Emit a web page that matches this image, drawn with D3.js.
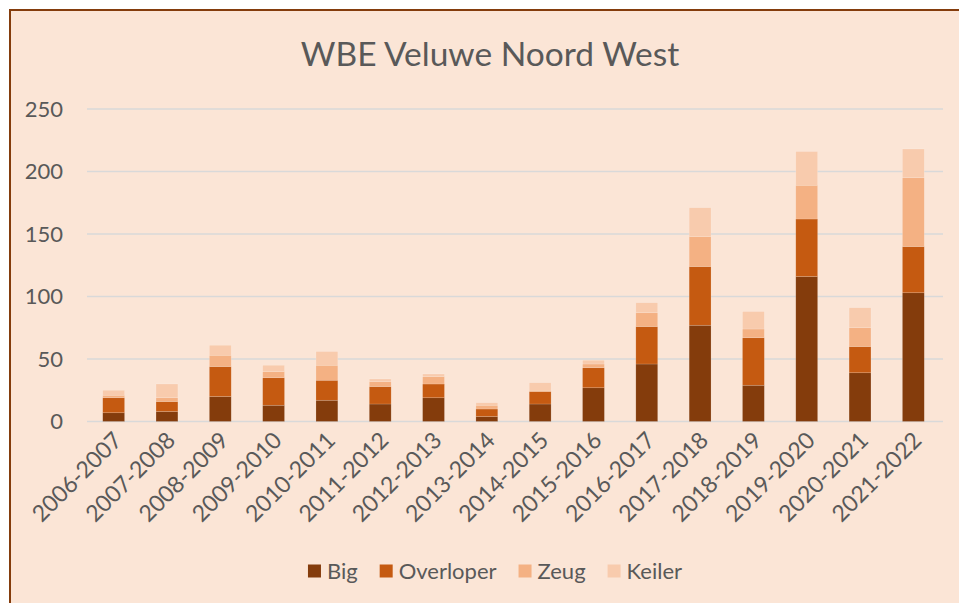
<!DOCTYPE html>
<html><head><meta charset="utf-8">
<script src="https://cdn.jsdelivr.net/npm/d3@7"></script>
<style>html,body{margin:0;padding:0;background:#fff;}svg{display:block;}</style>
</head><body>
<script>
const categories = ["2006-2007","2007-2008","2008-2009","2009-2010","2010-2011","2011-2012","2012-2013","2013-2014","2014-2015","2015-2016","2016-2017","2017-2018","2018-2019","2019-2020","2020-2021","2021-2022"];
const seriesNames = ["Big","Overloper","Zeug","Keiler"];
const big       = [7, 8, 20, 13, 17, 14, 19, 4, 14, 27, 46, 77, 29, 116, 39, 103];
const overloper = [12, 8, 24, 22, 16, 14, 11, 6, 10, 16, 30, 47, 38, 46, 21, 37];
const zeug      = [2, 3, 9, 5, 12, 4, 6, 3, 1, 3, 11, 24, 7, 27, 15, 55];
const keiler    = [4, 11, 8, 5, 11, 2, 2, 2, 6, 3, 8, 23, 14, 27, 16, 23];
const yTicks = [0, 50, 100, 150, 200, 250];
const title = "WBE Veluwe Noord West";
const colors = ["#843C0C","#C55A11","#F4B183","#F8CBAD"];

const W = 959, H = 603;
const font = "Lato, 'Open Sans', sans-serif";
const txt = "#595959";

const svg = d3.select("body").append("svg").attr("width", W).attr("height", H);
svg.append("rect").attr("x", 10).attr("y", 10).attr("width", W + 20).attr("height", H + 20)
  .attr("fill", "#FBE5D6").attr("stroke", "#843C0C").attr("stroke-width", 2);

const x = d3.scaleBand().domain(categories).range([87, 940]).paddingInner(0.59).paddingOuter(0.295);
const y = d3.scaleLinear().domain([0, 250]).range([421.5, 109]);

// gridlines
svg.append("g").selectAll("line").data(yTicks).join("line")
  .attr("x1", 87).attr("x2", 943)
  .attr("y1", d => y(d)).attr("y2", d => y(d))
  .attr("stroke", "#D9D9D9").attr("stroke-width", 1.5);

// y labels
svg.append("g").selectAll("text").data(yTicks).join("text")
  .attr("x", 63).attr("y", d => y(d)).attr("dy", "0.35em")
  .attr("text-anchor", "end").attr("font-family", font).attr("font-size", 22).attr("fill", txt)
  .text(d => d);

// stack
const rows = categories.map((c, i) => ({cat: c, Big: big[i], Overloper: overloper[i], Zeug: zeug[i], Keiler: keiler[i]}));
const stack = d3.stack().keys(seriesNames)(rows);

svg.append("g").selectAll("g").data(stack).join("g")
  .attr("fill", (d, i) => colors[i])
  .selectAll("rect").data(d => d).join("rect")
  .attr("x", d => x(d.data.cat)).attr("width", x.bandwidth())
  .attr("y", d => y(d[1])).attr("height", d => y(d[0]) - y(d[1]))
  .attr("stroke", "rgba(255,255,255,0.25)").attr("stroke-width", 0.6);

// x labels
svg.append("g").selectAll("text").data(categories).join("text")
  .attr("transform", d => `translate(${x(d) + x.bandwidth()/2 + 4},${436}) rotate(-45)`)
  .attr("text-anchor", "end").attr("dy", "0.35em")
  .attr("font-family", font).attr("font-size", 23).attr("fill", txt)
  .text(d => d);

// title
svg.append("text").attr("x", 490).attr("y", 66).attr("text-anchor", "middle")
  .attr("font-family", font).attr("font-size", 33.5).attr("fill", txt).text(title);

// legend
const lg = svg.append("g");
let cx = 0;
seriesNames.forEach((s, i) => {
  const g = lg.append("g");
  g.append("rect").attr("x", 0).attr("y", -6.5).attr("width", 13).attr("height", 13).attr("fill", colors[i]);
  const t = g.append("text").attr("x", 19).attr("y", 0).attr("dy", "0.35em")
    .attr("font-family", font).attr("font-size", 22).attr("fill", txt).text(s);
  const w = 19 + t.node().getComputedTextLength();
  g.attr("transform", `translate(${cx},0)`);
  cx += w + 22;
});
const total = cx - 22;
lg.attr("transform", `translate(${495 - total/2},571)`);
</script>
</body></html>
